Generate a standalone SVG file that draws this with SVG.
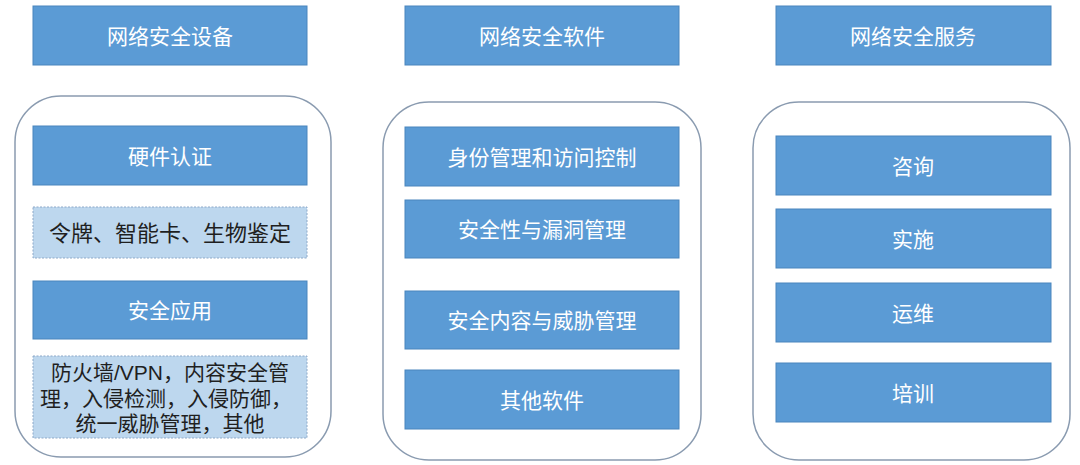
<svg xmlns="http://www.w3.org/2000/svg" width="1080" height="465" viewBox="0 0 1080 465">
<style>
.bg{fill:#ffffff}
.frame{fill:#ffffff;stroke:#8a9bb0;stroke-width:1.5}
.blue{fill:#5b9bd5;stroke:#4a85bd;stroke-width:1}
.light{fill:#bdd7ee;stroke:#8ea9c8;stroke-width:1;stroke-dasharray:2 1.5}
.wt{font-family:"Liberation Sans","Noto Sans CJK SC",sans-serif;font-size:21px;fill:#ffffff;text-anchor:middle;dominant-baseline:central}
.dt{font-family:"Liberation Sans","Noto Sans CJK SC",sans-serif;font-size:22px;fill:#1f1f1f;text-anchor:middle;dominant-baseline:central}
.dt2{font-family:"Liberation Sans","Noto Sans CJK SC",sans-serif;font-size:21px;fill:#1f1f1f;text-anchor:middle;dominant-baseline:central}
</style>
<rect class="bg" x="0" y="0" width="1080" height="465"/>
<g id="connectors"></g>
<g id="col1">
  <rect class="frame" x="15" y="96" width="316" height="361" rx="46" ry="46"/>
  <g id="h1"><rect class="blue" x="33" y="6" width="274" height="59"/><text class="wt" x="170" y="36">网络安全设备</text></g>
  <g id="n1a"><rect class="blue" x="33" y="126" width="274" height="59"/><text class="wt" x="170" y="156">硬件认证</text></g>
  <g id="n1b"><rect class="light" x="33" y="207" width="274" height="51"/><text class="dt" x="170" y="233">令牌、智能卡、生物鉴定</text></g>
  <g id="n1c"><rect class="blue" x="33" y="281" width="274" height="58"/><text class="wt" x="170" y="310">安全应用</text></g>
  <g id="n1d"><rect class="light" x="33" y="356" width="274" height="82"/>
    <text class="dt2" x="170" y="372">防火墙/VPN，内容安全管</text>
    <text class="dt2" x="166" y="398">理，入侵检测，入侵防御，</text>
    <text class="dt2" x="170" y="423">统一威胁管理，其他</text>
  </g>
</g>
<g id="col2">
  <rect class="frame" x="383" y="102" width="318" height="358" rx="46" ry="46"/>
  <g id="h2"><rect class="blue" x="405" y="6" width="274" height="59"/><text class="wt" x="542" y="36">网络安全软件</text></g>
  <g id="n2a"><rect class="blue" x="405" y="127" width="274" height="59"/><text class="wt" x="542" y="157">身份管理和访问控制</text></g>
  <g id="n2b"><rect class="blue" x="405" y="200" width="274" height="58"/><text class="wt" x="542" y="229">安全性与漏洞管理</text></g>
  <g id="n2c"><rect class="blue" x="405" y="291" width="274" height="58"/><text class="wt" x="542" y="320">安全内容与威胁管理</text></g>
  <g id="n2d"><rect class="blue" x="405" y="370" width="274" height="59"/><text class="wt" x="542" y="400">其他软件</text></g>
</g>
<g id="col3">
  <rect class="frame" x="753" y="102" width="317" height="358" rx="46" ry="46"/>
  <g id="h3"><rect class="blue" x="776" y="6" width="275" height="59"/><text class="wt" x="913" y="36">网络安全服务</text></g>
  <g id="n3a"><rect class="blue" x="776" y="136" width="275" height="59"/><text class="wt" x="913" y="166">咨询</text></g>
  <g id="n3b"><rect class="blue" x="776" y="209" width="275" height="59"/><text class="wt" x="913" y="239">实施</text></g>
  <g id="n3c"><rect class="blue" x="776" y="283" width="275" height="59"/><text class="wt" x="913" y="313">运维</text></g>
  <g id="n3d"><rect class="blue" x="776" y="363" width="275" height="59"/><text class="wt" x="913" y="393">培训</text></g>
</g>
</svg>
